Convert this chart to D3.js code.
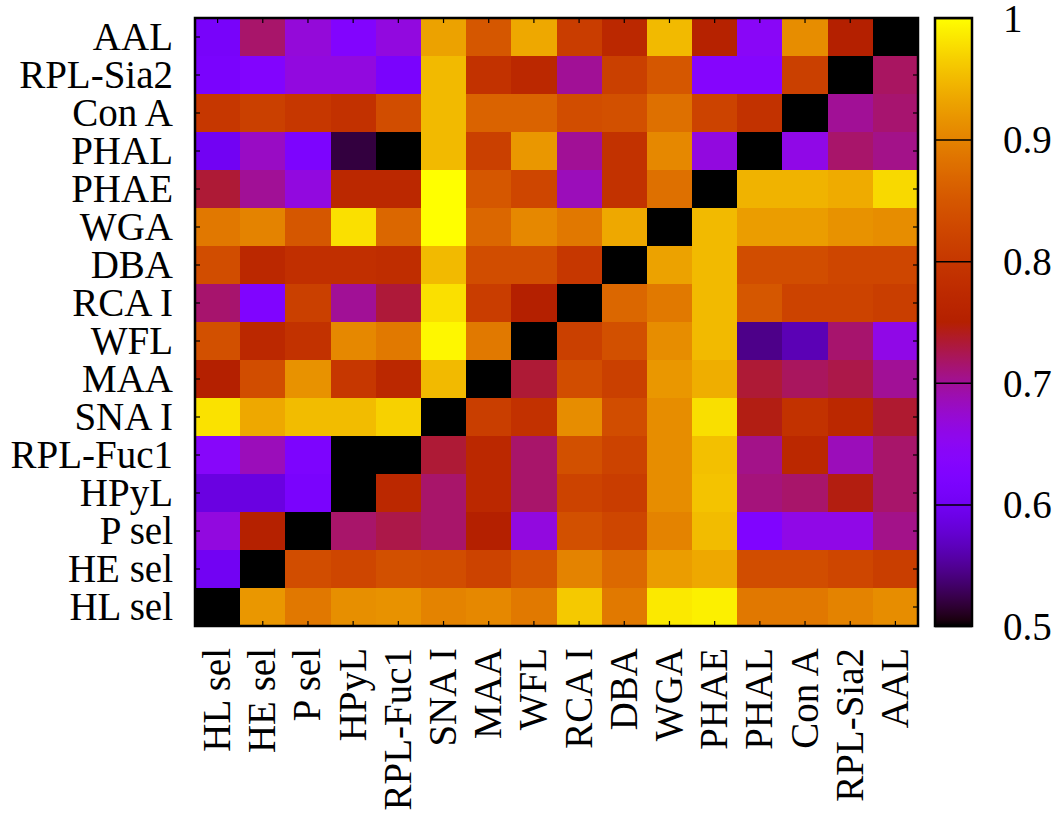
<!DOCTYPE html>
<html>
<head>
<meta charset="utf-8">
<script src="https://cdn.jsdelivr.net/npm/d3@7"></script>
<style>
  body { margin: 0; background: #fff; }
  text { font-family: "Liberation Serif", "Times New Roman", serif; }
</style>
</head>
<body>
<div id="chart"></div>
<script>
// row labels, top to bottom
var rowLabels = ["AAL", "RPL-Sia2", "Con A", "PHAL", "PHAE", "WGA", "DBA", "RCA I",
                 "WFL", "MAA", "SNA I", "RPL-Fuc1", "HPyL", "P sel", "HE sel", "HL sel"];
// column labels, left to right
var colLabels = ["HL sel", "HE sel", "P sel", "HPyL", "RPL-Fuc1", "SNA I", "MAA", "WFL",
                 "RCA I", "DBA", "WGA", "PHAE", "PHAL", "Con A", "RPL-Sia2", "AAL"];

// one array per row (same order as rowLabels)
var rowAAL     = [0.61, 0.716, 0.669, 0.63, 0.665, 0.93, 0.85, 0.935, 0.81, 0.77, 0.95, 0.755, 0.645, 0.91, 0.75, 0.5];
var rowSia2    = [0.615, 0.63, 0.665, 0.665, 0.615, 0.95, 0.79, 0.77, 0.70, 0.815, 0.85, 0.635, 0.635, 0.815, 0.5, 0.719];
var rowConA    = [0.80, 0.815, 0.80, 0.788, 0.835, 0.95, 0.865, 0.865, 0.835, 0.84, 0.88, 0.82, 0.79, 0.5, 0.70, 0.714];
var rowPHAL    = [0.60, 0.68, 0.62, 0.52, 0.5, 0.95, 0.815, 0.92, 0.70, 0.79, 0.905, 0.665, 0.5, 0.66, 0.716, 0.705];
var rowPHAE    = [0.733, 0.70, 0.665, 0.77, 0.77, 1.0, 0.85, 0.825, 0.685, 0.79, 0.88, 0.5, 0.944, 0.944, 0.938, 0.974];
var rowWGA     = [0.889, 0.90, 0.85, 0.979, 0.87, 1.0, 0.87, 0.905, 0.889, 0.935, 0.5, 0.95, 0.925, 0.925, 0.915, 0.91];
var rowDBA     = [0.835, 0.77, 0.785, 0.785, 0.78, 0.95, 0.835, 0.835, 0.80, 0.5, 0.93, 0.95, 0.835, 0.835, 0.825, 0.825];
var rowRCA     = [0.715, 0.625, 0.815, 0.70, 0.732, 0.979, 0.81, 0.75, 0.5, 0.87, 0.89, 0.95, 0.85, 0.82, 0.82, 0.812];
var rowWFL     = [0.84, 0.77, 0.79, 0.905, 0.89, 0.995, 0.89, 0.5, 0.815, 0.84, 0.91, 0.95, 0.545, 0.563, 0.715, 0.66];
var rowMAA     = [0.75, 0.835, 0.915, 0.80, 0.77, 0.95, 0.5, 0.733, 0.835, 0.815, 0.92, 0.94, 0.733, 0.72, 0.727, 0.70];
var rowSNA     = [0.98, 0.935, 0.952, 0.952, 0.968, 0.5, 0.812, 0.788, 0.91, 0.835, 0.91, 0.978, 0.744, 0.79, 0.77, 0.735];
var rowFuc1    = [0.64, 0.685, 0.62, 0.5, 0.5, 0.733, 0.77, 0.716, 0.84, 0.82, 0.91, 0.955, 0.705, 0.77, 0.685, 0.716];
var rowHPyL    = [0.586, 0.586, 0.615, 0.5, 0.77, 0.716, 0.77, 0.716, 0.82, 0.81, 0.91, 0.957, 0.71, 0.716, 0.745, 0.716];
var rowPsel    = [0.665, 0.752, 0.5, 0.716, 0.727, 0.716, 0.75, 0.665, 0.84, 0.825, 0.90, 0.952, 0.625, 0.66, 0.66, 0.705];
var rowHEsel   = [0.60, 0.5, 0.835, 0.825, 0.84, 0.835, 0.82, 0.845, 0.90, 0.872, 0.925, 0.935, 0.835, 0.835, 0.825, 0.812];
var rowHLsel   = [0.5, 0.92, 0.889, 0.912, 0.915, 0.90, 0.905, 0.89, 0.962, 0.89, 0.985, 0.99, 0.889, 0.889, 0.90, 0.91];

var matrixRows = [rowAAL, rowSia2, rowConA, rowPHAL, rowPHAE, rowWGA, rowDBA, rowRCA,
                  rowWFL, rowMAA, rowSNA, rowFuc1, rowHPyL, rowPsel, rowHEsel, rowHLsel];

var cbTicks = [0.5, 0.6, 0.7, 0.8, 0.9, 1];

var width = 1063, height = 821;
var plot = { left: 195, right: 918, top: 18, bottom: 626 };
var cb = { left: 935, right: 972 };
var fontSize = 39;

// gnuplot default palette (rgbformulae 7,5,15)
function gnuPalette(t) {
  var r = Math.sqrt(t), g = t * t * t, b = Math.max(0, Math.sin(2 * Math.PI * t));
  return d3.rgb(255 * r, 255 * g, 255 * b).toString();
}

var colorScale = d3.scaleSequential(gnuPalette).domain([0.5, 1]).clamp(true);

var svg = d3.select('#chart').append('svg')
  .attr('width', width)
  .attr('height', height)
  .style('background', '#fff');

var x = d3.scaleBand().domain(colLabels).range([plot.left, plot.right]);
var y = d3.scaleBand().domain(rowLabels).range([plot.top, plot.bottom]);

// cells
var cells = [];
matrixRows.forEach(function(row, i) {
  row.forEach(function(v, j) {
    cells.push({ row: rowLabels[i], col: colLabels[j], value: v });
  });
});

svg.append('g')
  .selectAll('rect')
  .data(cells)
  .enter()
  .append('rect')
  .attr('x', d => x(d.col))
  .attr('y', d => y(d.row))
  .attr('width', x.bandwidth() + 0.5)
  .attr('height', y.bandwidth() + 0.5)
  .attr('shape-rendering', 'crispEdges')
  .style('fill', d => colorScale(d.value));

// axes (ticks point inward like gnuplot)
var xAxis = svg.append('g')
  .attr('transform', `translate(0,${plot.bottom})`)
  .call(d3.axisBottom(x).tickSizeInner(-5).tickSizeOuter(0));
xAxis.select('.domain').remove();
xAxis.selectAll('text')
  .attr('transform', 'rotate(-90)')
  .attr('x', -22)
  .attr('y', 0)
  .attr('dy', '0.32em')
  .style('text-anchor', 'end')
  .style('font-size', fontSize + 'px')
  .style('fill', '#000');

svg.append('g')
  .attr('transform', `translate(0,${plot.top})`)
  .call(d3.axisTop(x).tickSizeInner(-5).tickSizeOuter(0).tickFormat(''))
  .select('.domain').remove();

var yAxis = svg.append('g')
  .attr('transform', `translate(${plot.left},0)`)
  .call(d3.axisLeft(y).tickSizeInner(-5).tickSizeOuter(0).tickPadding(22));
yAxis.select('.domain').remove();
yAxis.selectAll('text')
  .attr('dy', '0.34em')
  .style('font-size', fontSize + 'px')
  .style('fill', '#000');

svg.append('g')
  .attr('transform', `translate(${plot.right},0)`)
  .call(d3.axisRight(y).tickSizeInner(-5).tickSizeOuter(0).tickFormat(''))
  .select('.domain').remove();

svg.selectAll('.tick line').attr('stroke', '#000').attr('stroke-width', 1.2);

// plot border
svg.append('rect')
  .attr('x', plot.left)
  .attr('y', plot.top)
  .attr('width', plot.right - plot.left)
  .attr('height', plot.bottom - plot.top)
  .style('fill', 'none')
  .style('stroke', '#000')
  .style('stroke-width', 2.5);

// colour box
var cbScale = d3.scaleLinear().domain([0.5, 1]).range([plot.bottom, plot.top]);

var defs = svg.append('defs');
var grad = defs.append('linearGradient')
  .attr('id', 'cb-gradient')
  .attr('x1', '0%').attr('y1', '100%')
  .attr('x2', '0%').attr('y2', '0%');
grad.selectAll('stop')
  .data(d3.range(0, 101).map(i => 0.5 + i / 200))
  .enter()
  .append('stop')
  .attr('offset', d => ((d - 0.5) * 200) + '%')
  .attr('stop-color', d => colorScale(d));

svg.append('rect')
  .attr('x', cb.left)
  .attr('y', plot.top)
  .attr('width', cb.right - cb.left)
  .attr('height', plot.bottom - plot.top)
  .style('fill', 'url(#cb-gradient)')
  .style('stroke', '#000')
  .style('stroke-width', 2.5);

var cbAxis = svg.append('g')
  .attr('transform', `translate(${cb.left},0)`)
  .call(d3.axisRight(cbScale)
    .tickValues(cbTicks)
    .tickSizeInner(-(cb.right - cb.left))
    .tickSizeOuter(0)
    .tickPadding(68)
    .tickFormat(d => d === 1 ? '1' : d3.format('.1f')(d)));
cbAxis.select('.domain').remove();
cbAxis.selectAll('.tick line')
  .attr('x1', 0).attr('x2', cb.right - cb.left)
  .attr('stroke', '#000').attr('stroke-width', 1.5);
cbAxis.selectAll('text')
  .attr('dy', '0.34em')
  .style('font-size', fontSize + 'px')
  .style('fill', '#000');
</script>
</body>
</html>
